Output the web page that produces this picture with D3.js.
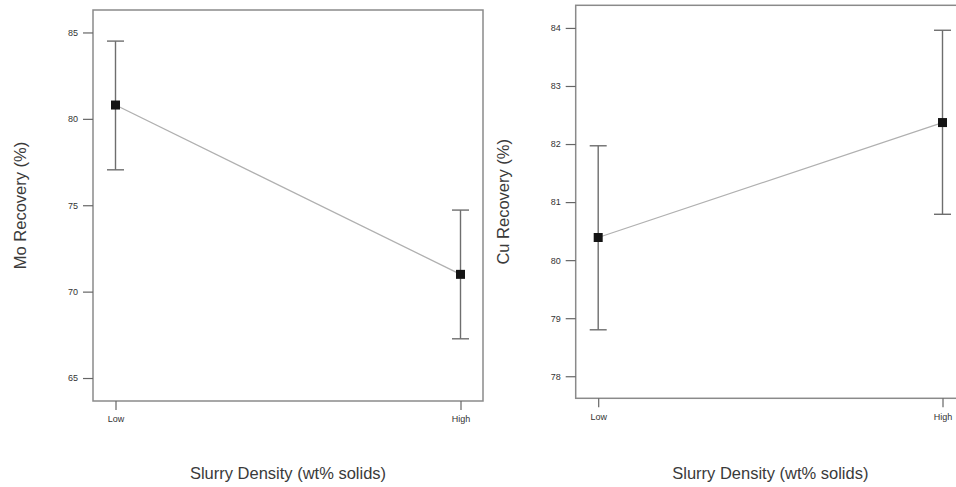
<!DOCTYPE html>
<html>
<head>
<meta charset="utf-8">
<script src="https://cdn.jsdelivr.net/npm/d3@7/dist/d3.min.js"></script>
<style>
  html, body { margin: 0; padding: 0; background: #fff; }
  svg { display: block; font-family: "Liberation Sans", Arial, sans-serif; }
</style>
</head>
<body>
<svg id="chart" width="956" height="487"></svg>
<script>
// Factor levels on the x axis
const levels = ["Low", "High"];

// Mo recovery: mean and interval bounds per level
const moMean  = [80.8, 71.0];
const moUpper = [84.5, 74.72];
const moLower = [77.05, 67.27];
const moTicks = [65, 70, 75, 80, 85];

// Cu recovery: mean and interval bounds per level
const cuMean  = [80.39, 82.37];
const cuUpper = [81.97, 83.96];
const cuLower = [78.80, 80.79];
const cuTicks = [78, 79, 80, 81, 82, 83, 84];

const svg = d3.select("#chart");

function panel(opts) {
  const { left, right, top, bottom, domain, ticks, mean, upper, lower, yLabel } = opts;
  const g = svg.append("g");

  const x = d3.scalePoint().domain(levels).range([left + 22.5, right - 22.5]);
  const y = d3.scaleLinear().domain(domain).range([bottom, top]);

  // frame
  g.append("rect")
    .attr("x", left).attr("y", top)
    .attr("width", right - left).attr("height", bottom - top)
    .attr("fill", "none").attr("stroke", "#8a8a8a").attr("stroke-width", 1.5);

  // y axis
  const yAxis = d3.axisLeft(y).tickValues(ticks).tickSize(10).tickPadding(5).tickFormat(d3.format("d"));
  const ya = g.append("g").attr("transform", `translate(${left},0)`).call(yAxis);
  ya.select(".domain").remove();
  ya.selectAll(".tick line").attr("stroke", "#666").attr("stroke-width", 1.2);
  ya.selectAll(".tick text").attr("fill", "#333").style("font-size", "9px");

  // x axis
  const xAxis = d3.axisBottom(x).tickSize(9).tickPadding(6);
  const xa = g.append("g").attr("transform", `translate(0,${bottom})`).call(xAxis);
  xa.select(".domain").remove();
  xa.selectAll(".tick line").attr("stroke", "#666").attr("stroke-width", 1.2);
  xa.selectAll(".tick text").attr("fill", "#333").style("font-size", "9px");

  const pts = levels.map((l, i) => ({ l, m: mean[i], hi: upper[i], lo: lower[i] }));

  // connecting line between means
  g.append("path")
    .datum(pts)
    .attr("fill", "none").attr("stroke", "#b0b0b0").attr("stroke-width", 1.3)
    .attr("d", d3.line().x(d => x(d.l)).y(d => y(d.m)));

  // interval bars
  const eb = g.selectAll(".eb").data(pts).enter().append("g").attr("class", "eb")
    .attr("stroke", "#6e6e6e").attr("stroke-width", 1.4);
  eb.append("line").attr("x1", d => x(d.l)).attr("x2", d => x(d.l))
    .attr("y1", d => y(d.hi)).attr("y2", d => y(d.lo));
  eb.append("line").attr("x1", d => x(d.l) - 8.5).attr("x2", d => x(d.l) + 8.5)
    .attr("y1", d => y(d.hi)).attr("y2", d => y(d.hi));
  eb.append("line").attr("x1", d => x(d.l) - 8.5).attr("x2", d => x(d.l) + 8.5)
    .attr("y1", d => y(d.lo)).attr("y2", d => y(d.lo));

  // mean markers
  g.selectAll(".mk").data(pts).enter().append("rect").attr("class", "mk")
    .attr("x", d => x(d.l) - 4.5).attr("y", d => y(d.m) - 4.5)
    .attr("width", 9).attr("height", 9).attr("fill", "#141414");

  // axis titles
  g.append("text")
    .attr("transform", `translate(${left - 71},${(top + bottom) / 2}) rotate(-90)`)
    .attr("text-anchor", "middle").attr("dominant-baseline", "middle")
    .attr("fill", "#3a3a3a").style("font-size", "16.5px").text(yLabel);
  g.append("text")
    .attr("x", (left + right) / 2).attr("y", 479)
    .attr("text-anchor", "middle").attr("fill", "#3a3a3a").style("font-size", "16.5px")
    .text("Slurry Density (wt% solids)");
}

panel({ left: 93, right: 483, top: 10, bottom: 401, domain: [63.67, 86.3],
  ticks: moTicks, mean: moMean, upper: moUpper, lower: moLower, yLabel: "Mo Recovery (%)" });
panel({ left: 575.7, right: 965, top: 5.3, bottom: 398.3, domain: [77.62, 84.39],
  ticks: cuTicks, mean: cuMean, upper: cuUpper, lower: cuLower, yLabel: "Cu Recovery (%)" });
</script>
</body>
</html>
